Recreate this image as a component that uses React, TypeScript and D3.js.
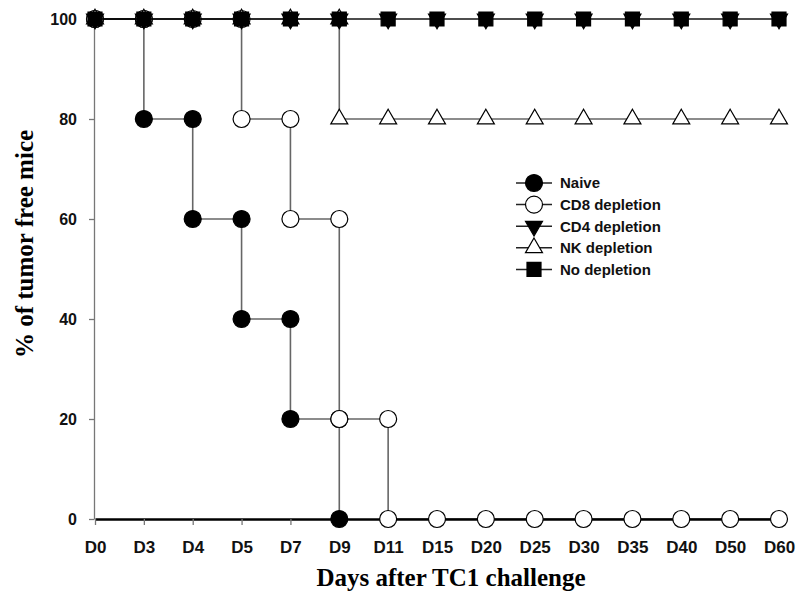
import React, { useEffect, useRef } from "react";
import * as d3 from "d3";

// x categories (days after challenge) and y ticks
const days = ["D0", "D3", "D4", "D5", "D7", "D9", "D11", "D15", "D20", "D25", "D30", "D35", "D40", "D50", "D60"];
const yTicks = [0, 20, 40, 60, 80, 100];

// step data: each drop is written as two points on the same day
const naiveDays = ["D0", "D3", "D3", "D4", "D4", "D5", "D5", "D7", "D7", "D9", "D9"];
const naiveValues = [100, 100, 80, 80, 60, 60, 40, 40, 20, 20, 0];

const cd8Days = ["D0", "D3", "D4", "D5", "D5", "D7", "D7", "D9", "D9", "D11", "D11", "D15", "D20", "D25", "D30", "D35", "D40", "D50", "D60"];
const cd8Values = [100, 100, 100, 100, 80, 80, 60, 60, 20, 20, 0, 0, 0, 0, 0, 0, 0, 0, 0];

const cd4Days = ["D0", "D3", "D4", "D5", "D7", "D9", "D11", "D15", "D20", "D25", "D30", "D35", "D40", "D50", "D60"];
const cd4Values = [100, 100, 100, 100, 100, 100, 100, 100, 100, 100, 100, 100, 100, 100, 100];

const nkDays = ["D0", "D3", "D4", "D5", "D7", "D9", "D9", "D11", "D15", "D20", "D25", "D30", "D35", "D40", "D50", "D60"];
const nkValues = [100, 100, 100, 100, 100, 100, 80, 80, 80, 80, 80, 80, 80, 80, 80, 80];

const noDepDays = ["D0", "D3", "D4", "D5", "D7", "D9", "D11", "D15", "D20", "D25", "D30", "D35", "D40", "D50", "D60"];
const noDepValues = [100, 100, 100, 100, 100, 100, 100, 100, 100, 100, 100, 100, 100, 100, 100];

const seriesNames = ["Naive", "CD8 depletion", "CD4 depletion", "NK depletion", "No depletion"];

const SANS = "'Liberation Sans', Arial, sans-serif";
const SERIF = "'Liberation Serif', 'Times New Roman', serif";

const App = () => {
  const ref = useRef<SVGSVGElement>(null);

  useEffect(() => {
    const svg = d3.select(ref.current);
    svg.selectAll("*").remove();

    const x = d3.scalePoint<string>().domain(days).range([95, 779]);
    const y = d3.scaleLinear().domain([0, 100]).range([519, 19]);

    const symbols = {
      circle: d3.symbol().type(d3.symbolCircle).size(227)(),
      square: d3.symbol().type(d3.symbolSquare).size(196)(),
      triangle: d3.symbol().type(d3.symbolTriangle).size(125)()
    };

    const series = [
      { name: seriesNames[0], days: naiveDays, values: naiveValues, shape: symbols.circle, rot: 0, filled: true },
      { name: seriesNames[1], days: cd8Days, values: cd8Values, shape: symbols.circle, rot: 0, filled: false },
      { name: seriesNames[2], days: cd4Days, values: cd4Values, shape: symbols.triangle, rot: 180, filled: true },
      { name: seriesNames[3], days: nkDays, values: nkValues, shape: symbols.triangle, rot: 0, filled: false },
      { name: seriesNames[4], days: noDepDays, values: noDepValues, shape: symbols.square, rot: 0, filled: true }
    ];

    // y axis
    const yAxis = svg
      .append("g")
      .attr("transform", "translate(94,0)")
      .call(d3.axisLeft(y).tickValues(yTicks).tickSize(5).tickSizeOuter(0).tickPadding(12));
    yAxis.select(".domain").attr("stroke", "#777").attr("stroke-width", 1.3);
    yAxis.selectAll(".tick line").attr("stroke", "#777").attr("stroke-width", 1.3);
    yAxis
      .selectAll(".tick text")
      .attr("font-family", SANS)
      .attr("font-size", 16)
      .attr("font-weight", "bold")
      .attr("fill", "#111");

    // x axis (thick black base line)
    const xAxis = svg
      .append("g")
      .attr("transform", "translate(0,519)")
      .call(d3.axisBottom(x).tickSize(6).tickSizeOuter(0).tickPadding(16));
    xAxis.select(".domain").attr("stroke", "#000").attr("stroke-width", 2.6);
    xAxis.selectAll(".tick line").attr("stroke", "#777").attr("stroke-width", 1.3);
    xAxis
      .selectAll(".tick text")
      .attr("font-family", SANS)
      .attr("font-size", 17)
      .attr("font-weight", "bold")
      .attr("fill", "#111");

    const line = d3
      .line<[string, number]>()
      .x(d => x(d[0]) as number)
      .y(d => y(d[1]));

    series.forEach(s => {
      const pts: [string, number][] = s.days.map((d, i) => [d, s.values[i]]);
      svg
        .append("path")
        .attr("d", line(pts))
        .attr("fill", "none")
        .attr("stroke", "#000")
        .attr("stroke-opacity", 0.6)
        .attr("stroke-width", 1.6);

      svg
        .append("g")
        .selectAll("path")
        .data(pts)
        .enter()
        .append("path")
        .attr("d", s.shape)
        .attr("transform", d => `translate(${x(d[0])},${y(d[1])}) rotate(${s.rot})`)
        .attr("fill", s.filled ? "#000" : "#fff")
        .attr("stroke", "#000")
        .attr("stroke-width", 1.2);
    });

    // legend
    const legend = svg.append("g");
    series.forEach((s, i) => {
      const ly = 183 + i * 21.6;
      legend
        .append("line")
        .attr("x1", 516)
        .attr("x2", 552)
        .attr("y1", ly)
        .attr("y2", ly)
        .attr("stroke", "#222")
        .attr("stroke-width", 1.5);
      legend
        .append("path")
        .attr("d", s.shape)
        .attr("transform", `translate(534,${ly}) rotate(${s.rot})`)
        .attr("fill", s.filled ? "#000" : "#fff")
        .attr("stroke", "#000")
        .attr("stroke-width", 1.2);
      legend
        .append("text")
        .attr("x", 560)
        .attr("y", ly)
        .attr("dy", "0.36em")
        .attr("font-family", SANS)
        .attr("font-size", 15)
        .attr("font-weight", "bold")
        .attr("fill", "#111")
        .text(s.name);
    });

    // axis titles
    svg
      .append("text")
      .attr("x", 451)
      .attr("y", 586)
      .attr("text-anchor", "middle")
      .attr("font-family", SERIF)
      .attr("font-size", 25)
      .attr("font-weight", "bold")
      .text("Days after TC1 challenge");

    svg
      .append("text")
      .attr("transform", "translate(33,244) rotate(-90)")
      .attr("text-anchor", "middle")
      .attr("font-family", SERIF)
      .attr("font-size", 25)
      .attr("font-weight", "bold")
      .text("% of tumor free mice");
  }, []);

  return (
    <svg
      ref={ref}
      width={799}
      height={593}
      style={{ position: "absolute", left: 0, top: 0, background: "#fff" }}
    />
  );
};

export default App;
